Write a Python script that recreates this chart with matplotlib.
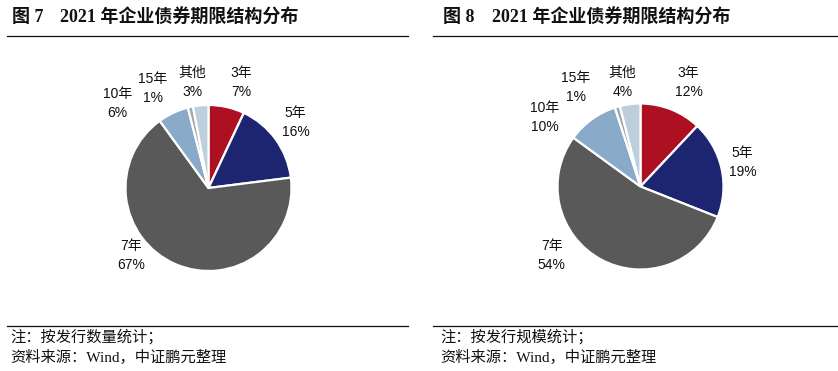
import matplotlib
matplotlib.use("Agg")
import matplotlib.pyplot as plt
from matplotlib.lines import Line2D

# ---- data ----
categories = ["3年", "5年", "7年", "10年", "15年", "其他"]
share_count = [7, 16, 67, 6, 1, 3]      # 图7 按发行数量
share_scale = [12, 19, 54, 10, 1, 4]    # 图8 按发行规模
titles_num = ["图 7", "图 8"]
title_text = "2021 年企业债券期限结构分布"
notes = ["注：按发行数量统计；", "注：按发行规模统计；"]
source = "资料来源：Wind，中证鹏元整理"

# label centres in pie-radius units (text placement only)
label_pos_left = [(0.39, 1.27), (1.05, 0.79), (-0.93, -0.81),
                  (-1.10, 1.02), (-0.67, 1.20), (-0.19, 1.27)]
label_pos_right = [(0.58, 1.25), (1.23, 0.29), (-1.07, -0.83),
                   (-1.15, 0.83), (-0.78, 1.19), (-0.22, 1.25)]

colors = ["#AD1020", "#1E2570", "#595959", "#8AAAC9", "#A6A6A6", "#BDCEDD"]

W, H = 838, 371
fig = plt.figure(figsize=(W / 100, H / 100), dpi=100)
fig.patch.set_facecolor("white")

label_font = ["Liberation Sans", "Noto Sans CJK SC"]
serif_cjk = ["Liberation Serif", "Noto Sans CJK SC"]


def px_axes(cx, cy, r):
    return fig.add_axes([(cx - r) / W, (H - cy - r) / H, 2 * r / W, 2 * r / H])


def draw_panel(cx, cy, r, values, label_pos, x0, x1, tx_num, tx_title, tx_note, note):
    ax = px_axes(cx, cy, r)
    ax.pie(values, colors=colors, startangle=90, counterclock=False,
           radius=1.0, wedgeprops=dict(edgecolor="white", linewidth=1.6))
    ax.set_xlim(-1, 1)
    ax.set_ylim(-1, 1)
    ax.set_aspect("auto")
    ax.axis("off")
    for cat, v, (lx, ly) in zip(categories, values, label_pos):
        ax.text(lx, ly, f"{cat}\n{v}%", ha="center", va="center",
                fontsize=10, family=label_font, linespacing=1.45,
                color="#111111", clip_on=False)
    # title
    fig.text(tx_num / W, 1 - 18 / H, tx_title[0], ha="left", va="center",
             fontsize=13, fontweight="bold", family=serif_cjk, color="#111111")
    fig.text(tx_title[1] / W, 1 - 18 / H, title_text, ha="left", va="center",
             fontsize=13, fontweight="bold", family=serif_cjk, color="#111111")
    # rules
    fig.add_artist(Line2D([x0 / W, x1 / W], [1 - 35.5 / H, 1 - 35.5 / H],
                          color="#111111", linewidth=0.9))
    fig.add_artist(Line2D([x0 / W, x1 / W], [1 - 325.5 / H, 1 - 325.5 / H],
                          color="#111111", linewidth=0.9))
    # notes
    fig.text(tx_note / W, 1 - 337 / H, note, ha="left", va="center",
             fontsize=11, family=serif_cjk, color="#111111")
    fig.text(tx_note / W, 1 - 357.5 / H, source, ha="left", va="center",
             fontsize=11, family=serif_cjk, color="#111111")


draw_panel(208.5, 188, 83, share_count, label_pos_left, 7, 408,
           12, (titles_num[0], 60), 10, notes[0])
draw_panel(640.5, 186.5, 83, share_scale, label_pos_right, 433, 837,
           443, (titles_num[1], 492), 440, notes[1])

fig.savefig("out.png", dpi=100, facecolor="white")
